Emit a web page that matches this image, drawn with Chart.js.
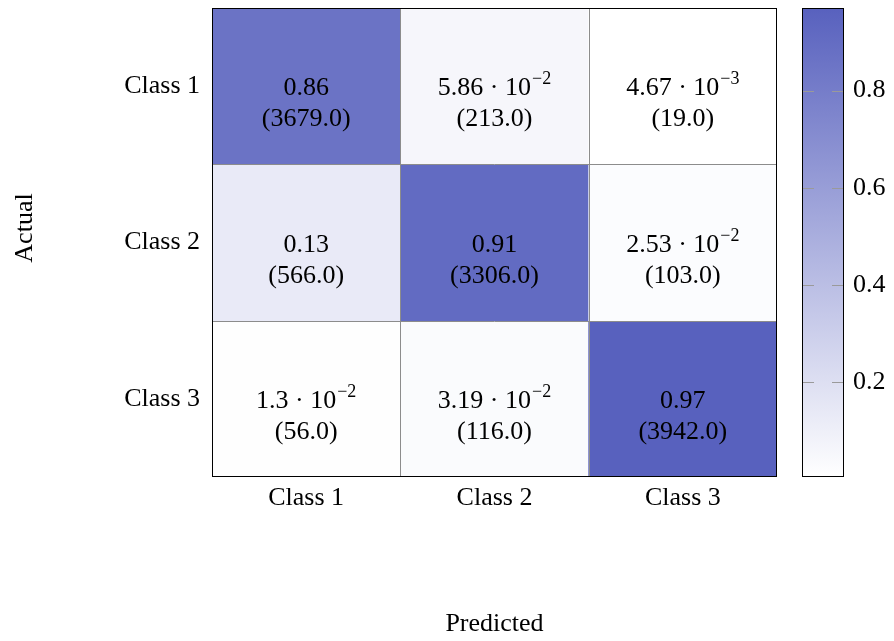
<!DOCTYPE html>
<html>
<head>
<meta charset="utf-8">
<script src="https://cdn.jsdelivr.net/npm/chart.js@4/dist/chart.umd.min.js"></script>
<style>
  html, body { margin: 0; padding: 0; background: #ffffff; }
  #wrap { width: 894px; height: 641px; }
</style>
</head>
<body>
<div id="wrap"><canvas id="cm" width="894" height="641"></canvas></div>
<script>
// Confusion matrix: rows are actual classes, columns are predicted classes.
const classes = ['Class 1', 'Class 2', 'Class 3'];

// Column-normalised rates per actual class
const ratesClass1 = [0.86, 0.0586, 0.00467];
const ratesClass2 = [0.13, 0.91, 0.0253];
const ratesClass3 = [0.013, 0.0319, 0.97];

// Raw counts per actual class
const countsClass1 = [3679, 213, 19];
const countsClass2 = [566, 3306, 103];
const countsClass3 = [56, 116, 3942];

// Colour bar tick values
const colorbarTicks = [0.2, 0.4, 0.6, 0.8];

const rateRows = [ratesClass1, ratesClass2, ratesClass3];
const countRows = [countsClass1, countsClass2, countsClass3];

const allRates = rateRows.flat();
const cMin = Math.min(...allRates);
const cMax = Math.max(...allRates);

const LOW = [255, 255, 255];
const HIGH = [88, 97, 190];
function colorFor(v) {
  const t = Math.max(0, Math.min(1, (v - cMin) / (cMax - cMin)));
  const c = LOW.map((l, i) => Math.round(l + (HIGH[i] - l) * t));
  return `rgb(${c[0]},${c[1]},${c[2]})`;
}

const SERIF = "'Liberation Serif', 'DejaVu Serif', serif";
const FONT = { family: SERIF, size: 26 };
// compact line height for the side axes so their labels do not reserve extra room above the plot
const SIDE_FONT = { family: SERIF, size: 26, lineHeight: 0.5 };
const hiddenTicks = (len) => ({
  display: true, drawOnChartArea: false, drawTicks: true, tickLength: len,
  color: 'rgba(0,0,0,0)', tickColor: 'rgba(0,0,0,0)'
});

// Draw a rate either as a plain decimal or as m · 10^e
function drawRate(ctx, v, cx, baseline) {
  ctx.textBaseline = 'alphabetic';
  if (v >= 0.1) {
    ctx.font = `26px ${SERIF}`;
    ctx.textAlign = 'center';
    ctx.fillText(v.toFixed(2), cx, baseline);
    return;
  }
  const e = Math.floor(Math.log10(v));
  const m = parseFloat((v / Math.pow(10, e)).toFixed(2)).toString();
  const main = m + ' \u00B7 10';
  const sup = '\u2212' + String(-e);
  ctx.font = `26px ${SERIF}`;
  const wMain = ctx.measureText(main).width;
  ctx.font = `18px ${SERIF}`;
  const wSup = ctx.measureText(sup).width;
  const x0 = cx - (wMain + 1 + wSup) / 2;
  ctx.textAlign = 'left';
  ctx.font = `26px ${SERIF}`;
  ctx.fillText(main, x0, baseline);
  ctx.font = `18px ${SERIF}`;
  ctx.fillText(sup, x0 + wMain + 1, baseline - 11);
}

const decorPlugin = {
  id: 'matrixDecor',
  afterDatasetsDraw(chart) {
    const { ctx, chartArea: a, scales } = chart;
    const x = scales.x, y = scales.y, cb = scales.cb;
    ctx.save();

    // cell separators
    ctx.strokeStyle = '#8c8c8c';
    ctx.lineWidth = 1;
    ctx.beginPath();
    for (let i = 0; i < classes.length - 1; i++) {
      const px = Math.round(x.getPixelForValue(i + 0.5)) + 0.5;
      ctx.moveTo(px, a.top); ctx.lineTo(px, a.bottom);
      const py = Math.round(y.getPixelForValue(i + 0.5)) + 0.5;
      ctx.moveTo(a.left, py); ctx.lineTo(a.right, py);
    }
    ctx.stroke();

    // outer frame
    ctx.strokeStyle = '#000';
    ctx.strokeRect(Math.round(a.left) + 0.5, Math.round(a.top) + 0.5,
                   Math.round(a.right - a.left) - 1, Math.round(a.bottom - a.top) - 1);

    // cell labels
    ctx.fillStyle = '#000';
    chart.data.datasets.forEach((ds, r) => {
      const meta = chart.getDatasetMeta(r);
      meta.data.forEach((bar, c) => {
        const cy = (bar.y + bar.base) / 2;
        drawRate(ctx, ds.rates[c], bar.x, cy + 9);
        ctx.font = `26px ${SERIF}`;
        ctx.textAlign = 'center';
        ctx.fillText('(' + ds.counts[c].toFixed(1) + ')', bar.x, cy + 40);
      });
    });

    // colour bar
    const bx = Math.round(a.right) + 25, bw = 42;
    const yTop = Math.round(cb.getPixelForValue(cMax));
    const yBot = Math.round(cb.getPixelForValue(cMin));
    const g = ctx.createLinearGradient(0, yBot, 0, yTop);
    g.addColorStop(0, colorFor(cMin));
    g.addColorStop(1, colorFor(cMax));
    ctx.fillStyle = g;
    ctx.fillRect(bx, yTop, bw, yBot - yTop);
    ctx.strokeStyle = '#9a9a9a';
    ctx.beginPath();
    colorbarTicks.forEach(t => {
      const py = Math.round(cb.getPixelForValue(t)) + 0.5;
      ctx.moveTo(bx, py); ctx.lineTo(bx + 12, py);
      ctx.moveTo(bx + bw - 12, py); ctx.lineTo(bx + bw, py);
    });
    ctx.stroke();
    ctx.strokeStyle = '#000';
    ctx.strokeRect(bx + 0.5, yTop + 0.5, bw - 1, yBot - yTop - 1);

    // axis titles
    ctx.fillStyle = '#000';
    ctx.font = `26px ${SERIF}`;
    ctx.textAlign = 'center';
    ctx.textBaseline = 'middle';
    ctx.fillText('Predicted', (a.left + a.right) / 2, 624);
    ctx.translate(25, 228);
    ctx.rotate(-Math.PI / 2);
    ctx.fillText('Actual', 0, 0);
    ctx.restore();
  }
};

new Chart(document.getElementById('cm'), {
  type: 'bar',
  data: {
    labels: classes,
    datasets: rateRows.map((rates, r) => ({
      label: classes[r],
      data: rates.map(() => [r - 0.5, r + 0.5]),
      backgroundColor: rates.map(colorFor),
      borderWidth: 0,
      grouped: false,
      barPercentage: 1,
      categoryPercentage: 1,
      rates: rates,
      counts: countRows[r]
    }))
  },
  options: {
    responsive: false,
    animation: false,
    events: [],
    layout: { padding: { top: 8, left: 0, right: 0, bottom: 0 } },
    plugins: { legend: { display: false }, tooltip: { enabled: false } },
    scales: {
      x: {
        type: 'category',
        offset: true,
        grid: { display: false, drawTicks: false },
        border: { display: false },
        ticks: { font: FONT, color: '#000', padding: 6, maxRotation: 0, autoSkip: false },
        afterFit(s) { s.height = 164; }
      },
      y: {
        type: 'linear',
        min: -0.5,
        max: 2.5,
        reverse: true,
        grid: hiddenTicks(12),
        border: { display: false },
        afterBuildTicks(s) { s.ticks = classes.map((_, i) => ({ value: i })); },
        ticks: { font: SIDE_FONT, color: '#000', padding: 0, callback: v => classes[v] },
        afterFit(s) { s.width = 212; }
      },
      cb: {
        type: 'linear',
        position: 'right',
        min: cMin,
        max: cMax,
        grid: hiddenTicks(76),
        border: { display: false },
        afterBuildTicks(s) { s.ticks = colorbarTicks.map(v => ({ value: v })); },
        ticks: { font: SIDE_FONT, color: '#000', padding: 0, callback: v => v.toFixed(1) },
        afterFit(s) { s.width = 117; }
      }
    }
  },
  plugins: [decorPlugin]
});
</script>
</body>
</html>
